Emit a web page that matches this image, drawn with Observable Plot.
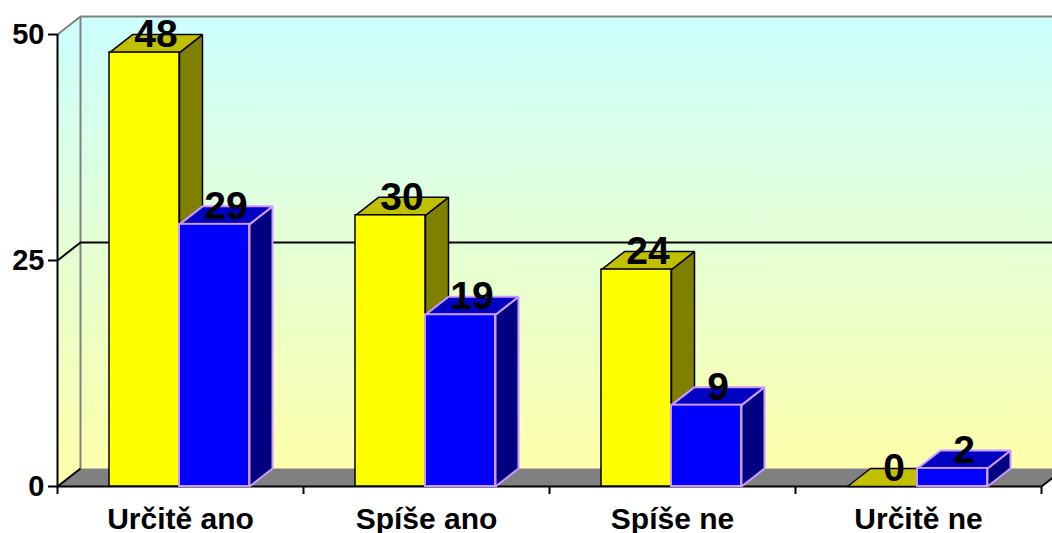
<!DOCTYPE html>
<html>
<head>
<meta charset="utf-8">
<script src="https://cdn.jsdelivr.net/npm/d3@7"></script>
<script src="https://cdn.jsdelivr.net/npm/@observablehq/plot@0.6"></script>
<style>
  html, body { margin: 0; padding: 0; background: #ffffff; overflow: hidden; }
  #chart svg { display: block; }
</style>
</head>
<body>
<div id="chart"></div>
<script>
// ---- data ----
const categories = ["Určitě ano", "Spíše ano", "Spíše ne", "Určitě ne"];
const seriesYellow = [48, 30, 24, 0];
const seriesBlue = [29, 19, 9, 2];
const yTicks = [0, 25, 50];
const xTicks = [0, 1, 2, 3, 4];

// ---- layout constants (x in category units, y in value units) ----
const DX = 23 / 246;   // 3D depth, horizontal
const DY = 18 / 9.04;  // 3D depth, vertical
const Y0 = 0.2114, Y1 = 0.4959, B1 = 0.7805;
const YMAX = 50, XMAX = 4;

function bar(i, v, x0, x1) {
  return {i, v, x0: i + x0, x1: i + x1};
}
const yellowBars = seriesYellow.map((v, i) => bar(i, v, Y0, Y1));
const blueBars = seriesBlue.map((v, i) => bar(i, v, Y1, B1));

function topPoly(b) {
  return [[b.x0, b.v], [b.x1, b.v], [b.x1 + DX, b.v + DY], [b.x0 + DX, b.v + DY], [b.x0, b.v]]
    .map(([x, y]) => ({x, y, id: b.i}));
}
function sidePoly(b) {
  return [[b.x1, 0], [b.x1 + DX, DY], [b.x1 + DX, b.v + DY], [b.x1, b.v], [b.x1, 0]]
    .map(([x, y]) => ({x, y, id: b.i}));
}

const leftWall = [[0, 0], [DX, DY], [DX, YMAX + DY], [0, YMAX], [0, 0]].map(([x, y]) => ({x, y}));
const backWall = [[DX, DY], [XMAX + 1, DY], [XMAX + 1, YMAX + DY], [DX, YMAX + DY], [DX, DY]].map(([x, y]) => ({x, y}));
const floor = [[0, 0], [XMAX, 0], [XMAX + DX, DY], [DX, DY], [0, 0]].map(([x, y]) => ({x, y}));

const gridBlack = [
  {id: "g25", pts: [[0, 25], [DX, 25 + DY], [XMAX + 1, 25 + DY]]},
  {id: "g0", pts: [[0, 0], [DX, DY]]},
  {id: "front", pts: [[0, 0], [XMAX, 0], [XMAX + DX, DY]]}
].flatMap(g => g.pts.map(([x, y]) => ({x, y, id: g.id})));
const gridGray = [
  {id: "top", pts: [[0, YMAX], [DX, YMAX + DY], [XMAX + 1, YMAX + DY]]},
  {id: "back", pts: [[DX, DY], [DX, YMAX + DY]]}
].flatMap(g => g.pts.map(([x, y]) => ({x, y, id: g.id})));

const labelsYellow = yellowBars.map(b => ({x: (b.x0 + b.x1) / 2 + DX / 2, y: b.v + DY, t: String(b.v)}));
const labelsBlue = blueBars.map(b => ({x: (b.x0 + b.x1) / 2 + DX / 2, y: b.v + DY, t: String(b.v)}));
const catLabels = categories.map((c, i) => ({x: i + 0.5, t: c}));

const chart = Plot.plot({
  width: 1052,
  height: 533,
  marginLeft: 57,
  marginRight: 11,
  marginTop: 34,
  marginBottom: 47,
  style: {fontFamily: "'Liberation Sans', Arial, sans-serif", fontWeight: "bold", color: "#000", overflow: "hidden", background: "#fff"},
  x: {type: "linear", domain: [0, XMAX], axis: null},
  y: {type: "linear", domain: [0, YMAX], axis: null},
  marks: [
    Plot.line(backWall, {x: "x", y: "y", fill: "url(#wallgrad)", stroke: "none"}),
    Plot.line(leftWall, {x: "x", y: "y", fill: "url(#wallgrad)", stroke: "none"}),
    Plot.line(floor, {x: "x", y: "y", fill: "#808080", stroke: "none"}),
    Plot.line(gridGray, {x: "x", y: "y", z: "id", stroke: "#808080", strokeWidth: 2, strokeLinecap: "butt"}),
    Plot.line(gridBlack, {x: "x", y: "y", z: "id", stroke: "#000", strokeWidth: 2, strokeLinecap: "butt"}),
    Plot.ruleX([0], {y1: 0, y2: YMAX, stroke: "#000", strokeWidth: 2}),
    Plot.axisY({ticks: yTicks, tickSize: 9, stroke: "#000", strokeWidth: 2, text: null}),
    Plot.text(yTicks, {y: d => d, frameAnchor: "left", dx: -13, textAnchor: "end", text: d => String(d), fontSize: 29, fontWeight: "bold", fill: "#000"}),
    Plot.axisX({ticks: xTicks, tickSize: 8, stroke: "#000", strokeWidth: 2, text: null}),
    // yellow bars
    Plot.line(yellowBars.flatMap(sidePoly), {x: "x", y: "y", z: "id", fill: "#808000", stroke: "#000", strokeWidth: 1.5, strokeLinejoin: "miter"}),
    Plot.line(yellowBars.flatMap(topPoly), {x: "x", y: "y", z: "id", fill: "#c0c000", stroke: "#000", strokeWidth: 1.5, strokeLinejoin: "miter"}),
    Plot.rect(yellowBars, {x1: "x0", x2: "x1", y1: 0, y2: "v", fill: "#ffff00", stroke: "#000", strokeWidth: 1.5}),
    // blue bars
    Plot.line(blueBars.flatMap(sidePoly), {x: "x", y: "y", z: "id", fill: "#000080", stroke: "#cc99ff", strokeWidth: 2, strokeLinejoin: "miter"}),
    Plot.line(blueBars.flatMap(topPoly), {x: "x", y: "y", z: "id", fill: "#0000c0", stroke: "#cc99ff", strokeWidth: 2, strokeLinejoin: "miter"}),
    Plot.rect(blueBars, {x1: "x0", x2: "x1", y1: 0, y2: "v", fill: "#0000ff", stroke: "#cc99ff", strokeWidth: 2}),
    // value labels
    Plot.text(labelsYellow, {x: "x", y: "y", text: "t", fontSize: 39, fontWeight: "bold", fill: "#000"}),
    Plot.text(labelsBlue, {x: "x", y: "y", text: "t", fontSize: 39, fontWeight: "bold", fill: "#000"}),
    // category labels
    Plot.text(catLabels, {x: "x", y: () => 0, text: "t", dy: 33, fontSize: 30, fontWeight: "bold", fill: "#000"})
  ]
});

const svg = d3.select(chart);
const defs = svg.insert("defs", ":first-child");
const grad = defs.append("linearGradient")
  .attr("id", "wallgrad")
  .attr("gradientUnits", "userSpaceOnUse")
  .attr("x1", 0).attr("y1", 16).attr("x2", 0).attr("y2", 486);
grad.append("stop").attr("offset", "0").attr("stop-color", "#ccffff");
grad.append("stop").attr("offset", "1").attr("stop-color", "#ffffa8");

document.getElementById("chart").appendChild(chart);
</script>
</body>
</html>
